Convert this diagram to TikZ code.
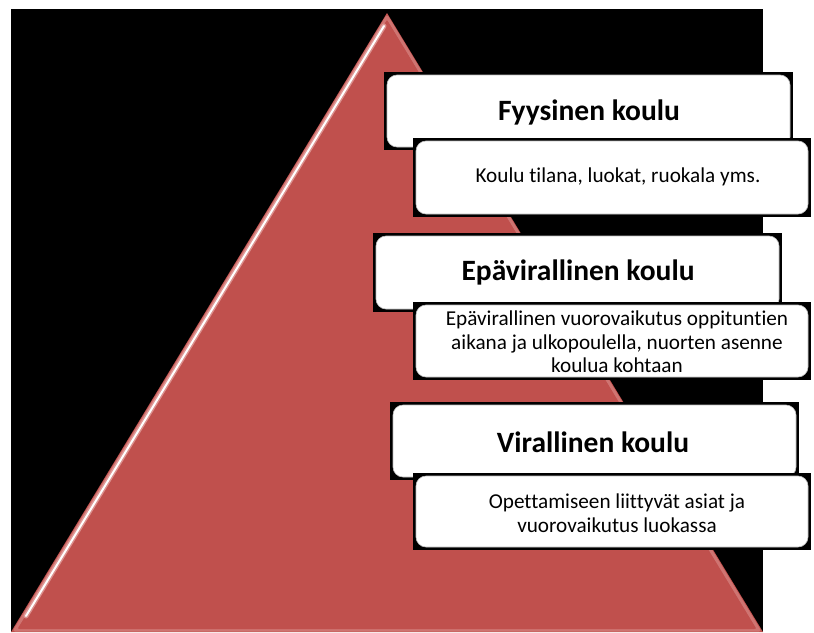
\documentclass[tikz,border=0pt]{standalone}
\usepackage{fontspec}
\setmainfont[Ligatures=NoCommon]{Carlito}
\definecolor{tri}{HTML}{C0504D}
\definecolor{triedge}{HTML}{E3A09E}
\begin{document}
\begin{tikzpicture}[x=1pt,y=-1pt,
  backdrop/.style={fill=black, draw=none, inner sep=0pt, minimum width=#1, minimum height=78pt},
  whitebox/.style={fill=white, draw=black!25, line width=0.6pt, rounded corners=10pt, inner sep=0pt, minimum width=#1, minimum height=72pt},
  titletext/.style={font=\fontsize{29.5}{33}\selectfont\bfseries, inner sep=0pt},
  desctext/.style={font=\fontsize{21.2}{23.5}\selectfont, align=center, inner sep=0pt}]
\useasboundingbox (0,0) rectangle (814,632);
\fill[white] (0,0) rectangle (814,632);
\fill[black] (11,9) rectangle (763,632);
% pyramid
\fill[tri] (387,13) -- (763,632) -- (11,632) -- cycle;
\draw[triedge, line width=3pt, line join=round, opacity=0.45] (387,17) -- (759,630) -- (15,630) -- cycle;
\draw[tri, line width=2pt, line join=round] (387,22) -- (754,628) -- (20,628) -- cycle;
\draw[triedge, line width=5pt, line cap=round, opacity=0.8] (384,26) -- (26,616);
\draw[white, line width=2pt, line cap=round] (384,26) -- (26,616);
\fill[tri] (387,22) -- (393,33) -- (387,38) -- cycle;
% level 1
\node[backdrop=409pt] (t1bg) at (588.5,111) {};
\node[whitebox=403pt] (t1) at (t1bg) {};
\node[titletext] (t1text) at (589,112) {Fyysinen koulu};
\node[backdrop=398pt, minimum height=79pt] (d1bg) at (612,177.5) {};
\node[whitebox=392pt, minimum height=73pt] (d1) at (d1bg) {};
\node[desctext] (d1text) at (618,177) {Koulu tilana, luokat, ruokala yms.};
% level 2
\node[backdrop=409pt, minimum height=79pt] (t2bg) at (577.5,272.5) {};
\node[whitebox=403pt, minimum height=73pt] (t2) at (t2bg) {};
\node[titletext] (t2text) at (578,272) {Epävirallinen koulu};
\node[backdrop=398pt] (d2bg) at (612,341) {};
\node[whitebox=392pt] (d2) at (d2bg) {};
\node[desctext] (d2text) at (617,342) {Epävirallinen vuorovaikutus oppituntien\\aikana ja ulkopoulella, nuorten asenne\\koulua kohtaan};
% level 3
\node[backdrop=409pt] (t3bg) at (594.5,441) {};
\node[whitebox=403pt] (t3) at (t3bg) {};
\node[titletext] (t3text) at (593,442) {Virallinen koulu};
\node[backdrop=398pt, minimum height=77pt] (d3bg) at (612,511.5) {};
\node[whitebox=392pt, minimum height=71pt] (d3) at (d3bg) {};
\node[desctext] (d3text) at (617,513) {Opettamiseen liittyvät asiat ja\\vuorovaikutus luokassa};
\end{tikzpicture}
\end{document}
